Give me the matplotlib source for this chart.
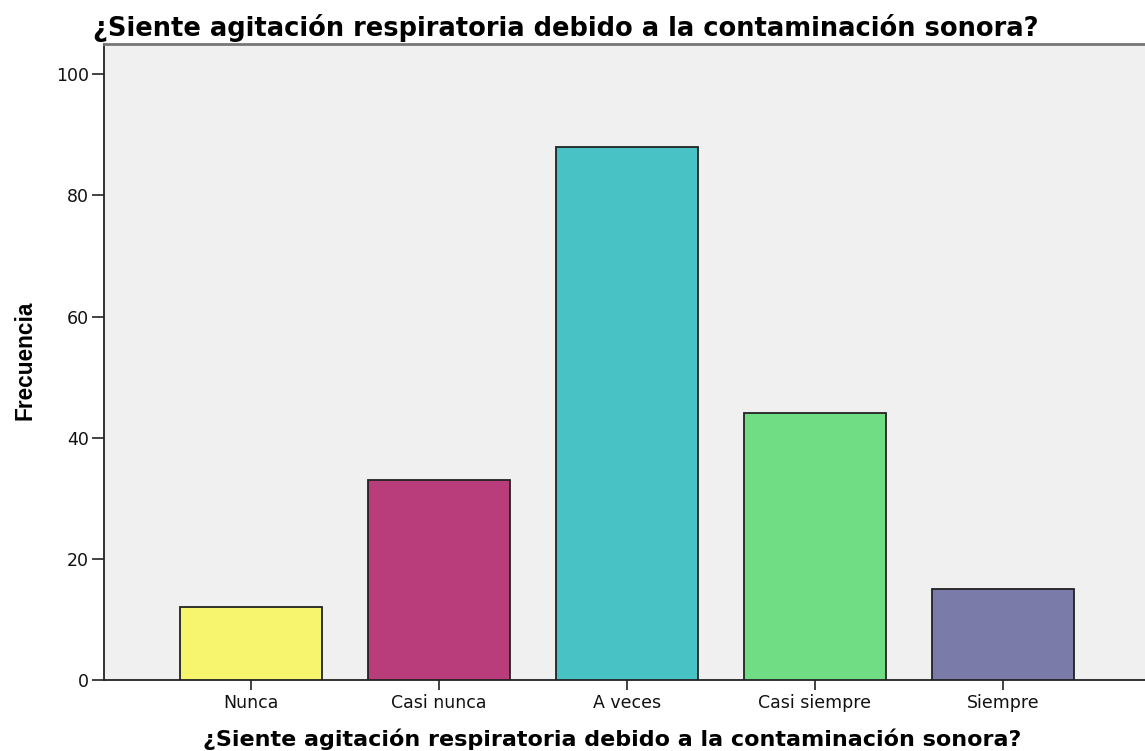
import matplotlib
matplotlib.use("Agg")
import matplotlib.pyplot as plt
from matplotlib import font_manager

categories = ["Nunca", "Casi nunca", "A veces", "Casi siempre", "Siempre"]
values = [12, 33, 88, 44, 15]
colors = ["#F7F56E", "#B93D7B", "#48C2C5", "#70DC83", "#7B7BAA"]
yticks = [0, 20, 40, 60, 80, 100]
title = "¿Siente agitación respiratoria debido a la contaminación sonora?"
ylabel = "Frecuencia"

names = {f.name for f in font_manager.fontManager.ttflist}
narrow = None
for cand in ["Liberation Sans Narrow", "Arial Narrow", "DejaVu Sans Condensed"]:
    if cand in names:
        narrow = cand
        break
plt.rcParams["font.family"] = "DejaVu Sans"

W, H = 1145, 751
fig = plt.figure(figsize=(W / 100, H / 100), dpi=100)
ax = fig.add_axes([104 / W, (H - 680) / H, (W - 104) / W, (680 - 44) / H])
ax.set_facecolor("#F0F0F0")

x = list(range(len(categories)))
ax.bar(x, values, width=0.755, color=colors, edgecolor="#222222", linewidth=1.3, zorder=3)
ax.set_xlim(-0.78, 4.755)
ax.set_ylim(0, 105)
ax.set_yticks(yticks)
ax.set_xticks(x)
ax.set_xticklabels(categories)
ax.tick_params(axis="both", direction="out", width=1.2, color="#222222",
               labelsize=12.5, labelcolor="#111111")
ax.tick_params(axis="x", length=7, pad=3)
ax.tick_params(axis="y", length=9, pad=2)
ax.spines["right"].set_visible(False)
for s in ["left", "bottom"]:
    ax.spines[s].set_color("#222222")
    ax.spines[s].set_linewidth(1.3)
ax.spines["top"].set_color("#777777")
ax.spines["top"].set_linewidth(2)

fig.text(93 / W, 1 - 36 / H, title, fontsize=18.5, fontweight="bold",
         ha="left", va="baseline")
fig.text(612 / W, 1 - 746 / H, title, fontsize=16, fontweight="bold",
         ha="center", va="baseline")
if narrow:
    fig.text(25 / W, 1 - 360 / H, ylabel, fontsize=20, fontweight="bold", family=narrow,
             rotation=90, ha="center", va="center")
else:
    fig.text(25 / W, 1 - 360 / H, ylabel, fontsize=16.3, fontweight="bold",
             family="Liberation Sans", rotation=90, ha="center", va="center")

fig.savefig("out.png", dpi=100)
